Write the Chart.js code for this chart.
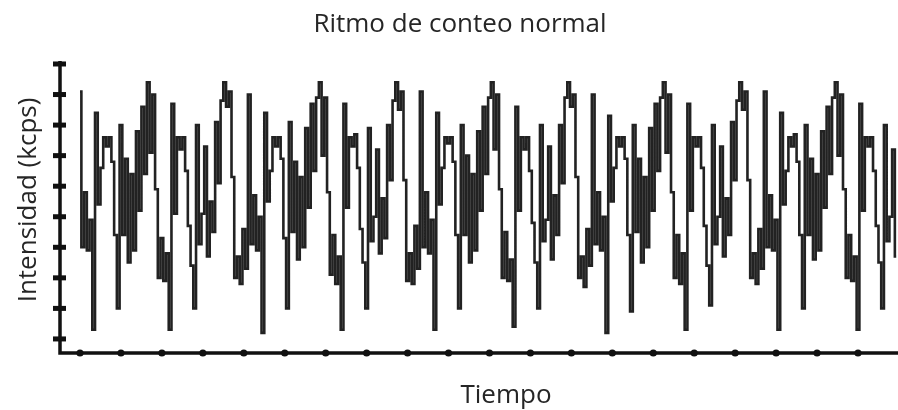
<!DOCTYPE html>
<html lang="es">
<head>
<meta charset="utf-8">
<title>Ritmo de conteo normal</title>
<script src="https://cdn.jsdelivr.net/npm/chart.js@4/dist/chart.umd.min.js"></script>
<style>
  html, body { margin: 0; padding: 0; background: #ffffff; }
  #marco { width: 898px; height: 410px; }
</style>
</head>
<body>
<div id="marco"><canvas id="grafico" width="898" height="410"></canvas></div>
<script>
// Textos
const titulo = 'Ritmo de conteo normal';
const tituloEjeX = 'Tiempo';
const tituloEjeY = 'Intensidad (kcps)';

// Marcas de los ejes (sin etiquetas)
const marcasTiempo = [0, 15, 30, 45, 60, 75, 90, 105, 120, 135, 150, 165, 180, 195, 210, 225, 240, 255, 270, 285];
const marcasIntensidad = [1, 2, 3, 4, 5, 6, 7, 8, 9, 10];

// Intensidad medida (kcps), una muestra por intervalo de tiempo
const intensidad = [
  // tramo inicial
  9.1, 4.0, 5.8, 3.9, 4.9, 1.3, 8.4, 5.4, 6.6, 7.6, 7.3, 7.6, 6.8, 4.4, 2.0, 8.0, 4.4, 6.9, 3.5, 6.4, 3.9, 7.8, 5.2, 8.6, 6.4,
  // ciclo corto
  9.4, 7.1, 9.0, 5.9, 3.0, 4.3, 2.9, 3.8, 1.3, 8.7, 5.1, 7.6, 7.2, 7.6, 6.5, 4.7, 3.4, 2.0, 8.0, 4.1, 5.1, 7.3, 3.7, 5.5, 4.5, 8.1, 6.1, 8.8,
  // ciclo largo
  9.4, 8.6, 9.1, 6.3, 3.0, 3.7, 2.8, 4.6, 3.3, 9.0, 4.1, 5.7, 3.9, 5.0, 1.2, 8.4, 5.5, 6.5, 7.6, 7.3, 7.6, 6.9, 4.3, 2.0, 8.1, 4.5, 6.8, 3.6, 6.3, 4.0, 7.9, 5.3, 8.7, 6.5, 8.9,
  // ciclo corto
  9.4, 7.0, 8.9, 5.8, 3.1, 4.4, 2.8, 3.7, 1.3, 8.7, 5.3, 7.6, 7.3, 7.7, 6.6, 4.6, 3.5, 2.0, 7.9, 4.2, 5.0, 7.2, 3.8, 5.6, 4.3, 8.0, 6.2, 8.8,
  // ciclo largo
  9.4, 8.5, 9.1, 6.2, 2.9, 3.8, 2.8, 4.7, 3.3, 9.1, 4.0, 5.8, 3.8, 4.9, 1.3, 8.4, 5.4, 6.6, 7.6, 7.4, 7.6, 6.8, 4.4, 2.0, 8.0, 4.4, 7.0, 3.5, 6.4, 3.9, 7.8, 5.2, 8.6, 6.4, 8.9,
  // ciclo corto
  9.4, 7.2, 9.0, 5.9, 3.0, 4.5, 2.9, 3.6, 1.4, 8.6, 5.2, 7.6, 7.2, 7.6, 6.5, 4.8, 3.5, 2.0, 8.0, 4.2, 4.9, 7.3, 3.6, 5.7, 4.4, 8.0, 6.1, 8.9,
  // ciclo largo
  9.4, 8.6, 9.0, 6.3, 3.0, 3.7, 2.7, 4.6, 3.4, 9.0, 4.1, 5.8, 3.9, 5.0, 1.2, 8.3, 5.5, 6.6, 7.6, 7.3, 7.6, 6.9, 4.4, 1.9, 8.0, 4.5, 6.9, 3.5, 6.3, 4.0, 7.9, 5.2, 8.7, 6.5, 8.9,
  // ciclo corto
  9.4, 7.1, 9.0, 5.8, 3.0, 4.4, 2.8, 3.8, 1.3, 8.7, 5.2, 7.6, 7.3, 7.6, 6.6, 4.7, 3.4, 2.1, 8.0, 4.1, 5.0, 7.3, 3.7, 5.6, 4.4, 8.1, 6.2, 8.8,
  // ciclo largo
  9.4, 8.5, 9.1, 6.2, 3.0, 3.8, 2.8, 4.6, 3.3, 9.1, 4.0, 5.7, 3.9, 4.9, 1.3, 8.4, 5.4, 6.5, 7.6, 7.3, 7.7, 6.8, 4.4, 2.0, 8.0, 4.4, 6.9, 3.6, 6.4, 3.9, 7.8, 5.3, 8.6, 6.4, 8.9,
  // ciclo corto (cortado al final)
  9.4, 7.0, 9.0, 5.9, 3.0, 4.4, 2.9, 3.7, 1.3, 8.7, 5.2, 7.6, 7.3, 7.6, 6.5, 4.7, 3.5, 2.0, 8.0, 4.2, 5.0, 7.2, 3.7
];

// Cada muestra ocupa una unidad de tiempo
const puntos = intensidad.map((v, i) => ({ x: i, y: v }));

const FUENTE = '"Open Sans", "Noto Sans", "DejaVu Sans", sans-serif';
const COLOR_TEXTO = '#262626';
const COLOR_EJE = '#111111';

// Ejes con marcas gruesas y textos del gráfico
const ejesYTextos = {
  id: 'ejesYTextos',
  afterDatasetsDraw(chart) {
    const { ctx, chartArea: a, scales: { x, y } } = chart;
    ctx.save();

    // líneas de los ejes
    ctx.strokeStyle = COLOR_EJE;
    ctx.fillStyle = COLOR_EJE;
    ctx.lineWidth = 3.5;
    ctx.lineCap = 'butt';
    ctx.beginPath();
    ctx.moveTo(a.left, a.top - 1);
    ctx.lineTo(a.left, a.bottom);
    ctx.lineTo(a.right, a.bottom);
    ctx.stroke();

    // marcas del eje de intensidad: barras cortas a ambos lados
    marcasIntensidad.forEach(v => {
      const py = y.getPixelForValue(v);
      ctx.fillRect(a.left - 7, py - 2.5, 13, 5);
    });

    // marcas del eje de tiempo: puntos sobre la línea
    marcasTiempo.forEach(v => {
      const px = x.getPixelForValue(v);
      ctx.beginPath();
      ctx.arc(px, a.bottom, 3.6, 0, Math.PI * 2);
      ctx.fill();
    });

    // textos
    ctx.fillStyle = COLOR_TEXTO;
    ctx.font = '26px ' + FUENTE;
    ctx.textAlign = 'center';
    ctx.textBaseline = 'alphabetic';
    ctx.fillText(titulo, 460, 32);
    ctx.fillText(tituloEjeX, 506, 403);

    ctx.translate(36, 200);
    ctx.rotate(-Math.PI / 2);
    ctx.fillText(tituloEjeY, 0, 0);

    ctx.restore();
  }
};

new Chart(document.getElementById('grafico'), {
  type: 'line',
  data: {
    datasets: [{
      label: tituloEjeY,
      data: puntos,
      borderColor: '#222222',
      borderWidth: 2.6,
      pointRadius: 0,
      stepped: 'middle',
      fill: false
    }]
  },
  options: {
    responsive: false,
    animation: false,
    events: [],
    layout: { padding: { left: 60, right: 0, top: 62, bottom: 57 } },
    plugins: {
      legend: { display: false },
      title: { display: false },
      tooltip: { enabled: false }
    },
    scales: {
      x: { type: 'linear', display: false, min: -7.33, max: 299.65 },
      y: { type: 'linear', display: false, min: 0.54, max: 10.065 }
    }
  },
  plugins: [ejesYTextos]
});
</script>
</body>
</html>
